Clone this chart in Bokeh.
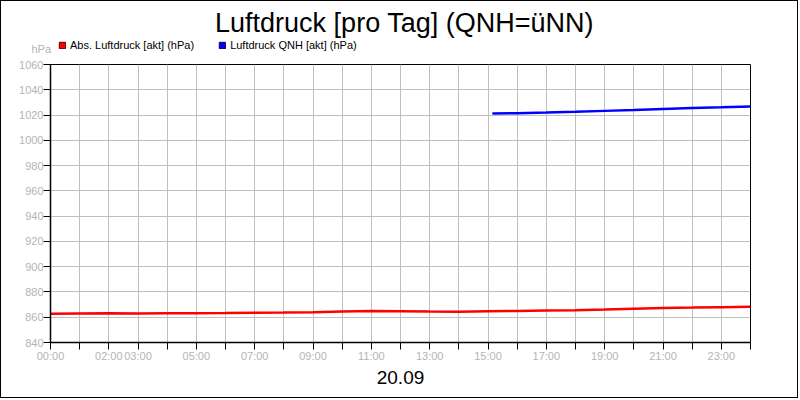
from bokeh.plotting import figure
from bokeh.models import (Legend, LegendItem, FixedTicker, Range1d, Label)
from bokeh.embed import file_html
from bokeh.resources import INLINE

title_text = "Luftdruck [pro Tag] (QNH=üNN)"
date_label = "20.09"
unit_label = "hPa"
series_names = ["Abs. Luftdruck [akt] (hPa)", "Luftdruck QNH [akt] (hPa)"]
series_colors = ["#ff0000", "#0000ff"]

abs_hours = [0, 1, 2, 3, 4, 5, 6, 7, 8, 9, 10, 11, 12, 13, 14, 15, 16, 17, 18, 19, 20, 21, 22, 23, 24]
abs_values = [862.8, 863.0, 863.1, 863.0, 863.1, 863.2, 863.3, 863.5, 863.7, 864.0, 864.5, 864.9,
              864.7, 864.5, 864.4, 864.8, 865.0, 865.3, 865.6, 866.1, 866.8, 867.4, 867.6, 867.9, 868.2]
qnh_hours = [15.15, 16, 17, 18, 19, 20, 21, 22, 23, 24]
qnh_values = [1021.3, 1021.5, 1022.0, 1022.6, 1023.3, 1024.0, 1024.8, 1025.5, 1026.1, 1026.8]

y_ticks = [840, 860, 880, 900, 920, 940, 960, 980, 1000, 1020, 1040, 1060]
x_ticks = list(range(0, 25))
x_tick_labels = {0: "00:00", 2: "02:00", 3: "03:00", 5: "05:00", 7: "07:00", 9: "09:00",
                 11: "11:00", 13: "13:00", 15: "15:00", 17: "17:00", 19: "19:00",
                 21: "21:00", 23: "23:00"}

FONT = "Liberation Sans"
GRAY = "#b4b4b4"

# ---------------- main chart ----------------
p = figure(width=798, height=398, output_backend="svg", toolbar_location=None,
           x_range=Range1d(0, 24), y_range=Range1d(840, 1060),
           min_border_left=49, min_border_right=49, min_border_top=63, min_border_bottom=57,
           styles={"position": "fixed", "left": "0px", "top": "0px",
                   "border": "1px solid black", "background": "white"})

p.outline_line_color = "black"
p.outline_line_width = 1

for ax in (p.xaxis[0], p.yaxis[0]):
    ax.axis_line_color = "black"
    ax.axis_line_width = 1.5
    ax.major_tick_line_color = "black"
    ax.minor_tick_line_color = None
    ax.major_label_text_color = GRAY
    ax.major_label_text_font = FONT
    ax.major_label_text_font_size = "11px"
    ax.major_tick_in = 0

p.xaxis[0].ticker = FixedTicker(ticks=x_ticks)
p.xaxis[0].major_label_overrides = {k: x_tick_labels.get(k, "") for k in x_ticks}
p.xaxis[0].major_tick_out = 7
p.xaxis[0].major_label_standoff = 0
p.xaxis[0].axis_label = date_label
p.xaxis[0].axis_label_text_font = FONT
p.xaxis[0].axis_label_text_font_size = "19px"
p.xaxis[0].axis_label_text_font_style = "normal"
p.xaxis[0].axis_label_text_color = "black"
p.xaxis[0].axis_label_standoff = 6

p.yaxis[0].ticker = FixedTicker(ticks=y_ticks)
p.yaxis[0].major_tick_out = 7
p.yaxis[0].major_label_standoff = 0

p.xgrid.grid_line_color = "#c0c0c0"
p.ygrid.grid_line_color = "#c0c0c0"
p.xgrid.grid_line_width = 1
p.ygrid.grid_line_width = 1

p.line(abs_hours, abs_values, line_color=series_colors[0], line_width=2.5)
p.line(qnh_hours, qnh_values, line_color=series_colors[1], line_width=2.5)

# ---------------- header strip: title, unit, legend (overlaid on the top margin) ----------------
hd = figure(width=798, height=62, output_backend="svg", toolbar_location=None,
            x_axis_type=None, y_axis_type=None, x_range=Range1d(0, 1), y_range=Range1d(0, 1),
            min_border=0, outline_line_color=None,
            background_fill_alpha=0, border_fill_alpha=0,
            styles={"position": "fixed", "left": "1px", "top": "1px"})
hd.grid.visible = False

nan = float("nan")
sw = [hd.quad(left=[nan], right=[nan], top=[nan], bottom=[nan], fill_color=c,
              line_color=lc, line_width=1)
      for c, lc in zip(series_colors, ["#600000", "#000060"])]
legend = Legend(items=[LegendItem(label=n, renderers=[r], index=0) for n, r in zip(series_names, sw)],
                orientation="horizontal", location=(57, 12),
                glyph_width=8, glyph_height=8, label_height=12, label_standoff=4,
                spacing=24, padding=0, margin=0,
                label_text_font=FONT, label_text_font_size="11px", label_text_color="black",
                border_line_color=None, background_fill_alpha=0)
hd.add_layout(legend, "center")

hd.add_layout(Label(x=403, y=41, x_units="screen", y_units="screen", text=title_text,
                    text_align="center", text_baseline="alphabetic", text_font=FONT,
                    text_font_size="27px", text_color="black"))
hd.add_layout(Label(x=30, y=14.5, x_units="screen", y_units="screen", text=unit_label,
                    text_align="left", text_baseline="middle", text_font=FONT,
                    text_font_size="11px", text_color=GRAY))

open("out.html", "w").write(file_html([p, hd], INLINE))
